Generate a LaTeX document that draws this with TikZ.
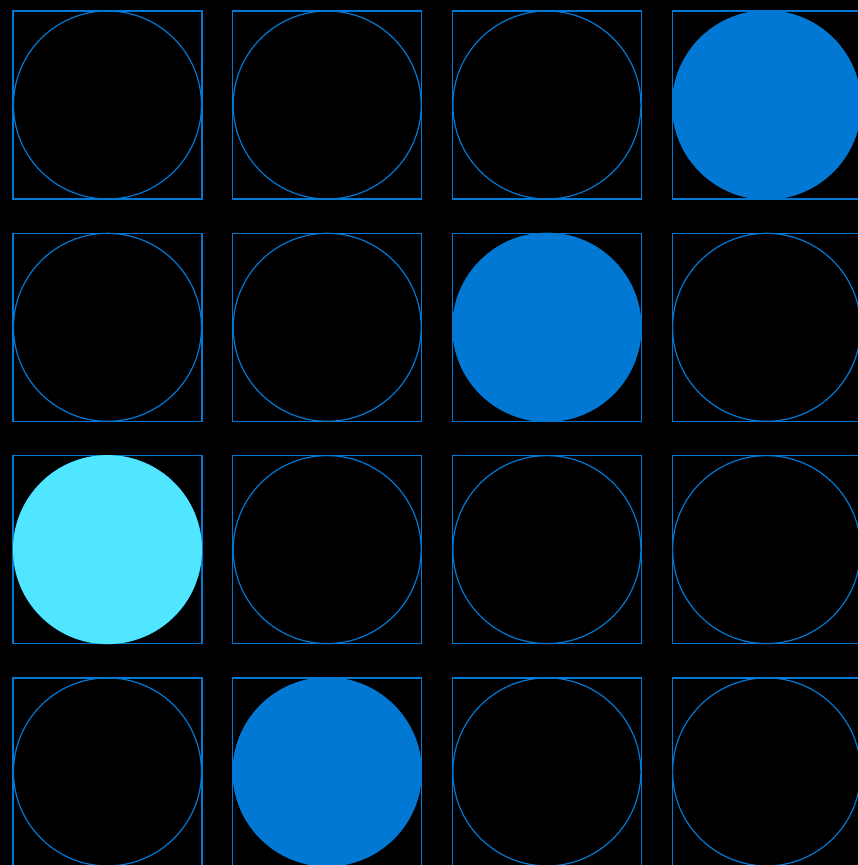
\documentclass[tikz,border=0pt]{standalone}
\usepackage{tikz}
\definecolor{gridblue}{HTML}{0078D4}
\definecolor{gridcyan}{HTML}{50E6FF}

\begin{document}
\begin{tikzpicture}[x=1pt,y=1pt,
cellbox/.style={draw=gridblue,line width=1.2pt,minimum width=189pt,
minimum height=188pt,inner sep=0pt},
ring/.style={circle,draw=gridblue,line width=1.2pt,minimum size=188pt,inner sep=0pt},
dot/.style={circle,fill=#1,minimum size=189pt,inner sep=0pt}]
\fill[black] (0,0) rectangle (858,-865);
\useasboundingbox (0,0) rectangle (858,-865);
% grid of boxes with rings
\foreach \r in {1,...,4}{
  \foreach \c in {1,...,4}{
    \node[cellbox] (b-\r-\c) at ({107.5+(\c-1)*219.7},{-105-(\r-1)*222.3}) {};
    \node[ring] (c-\r-\c) at (b-\r-\c) {};
  }
}
% filled cells
\node[dot=gridblue] (d-1-4) at (b-1-4) {};
\node[dot=gridblue] (d-2-3) at (b-2-3) {};
\node[dot=gridcyan] (d-3-1) at (b-3-1) {};
\node[dot=gridblue] (d-4-2) at (b-4-2) {};
\end{tikzpicture}
\end{document}
